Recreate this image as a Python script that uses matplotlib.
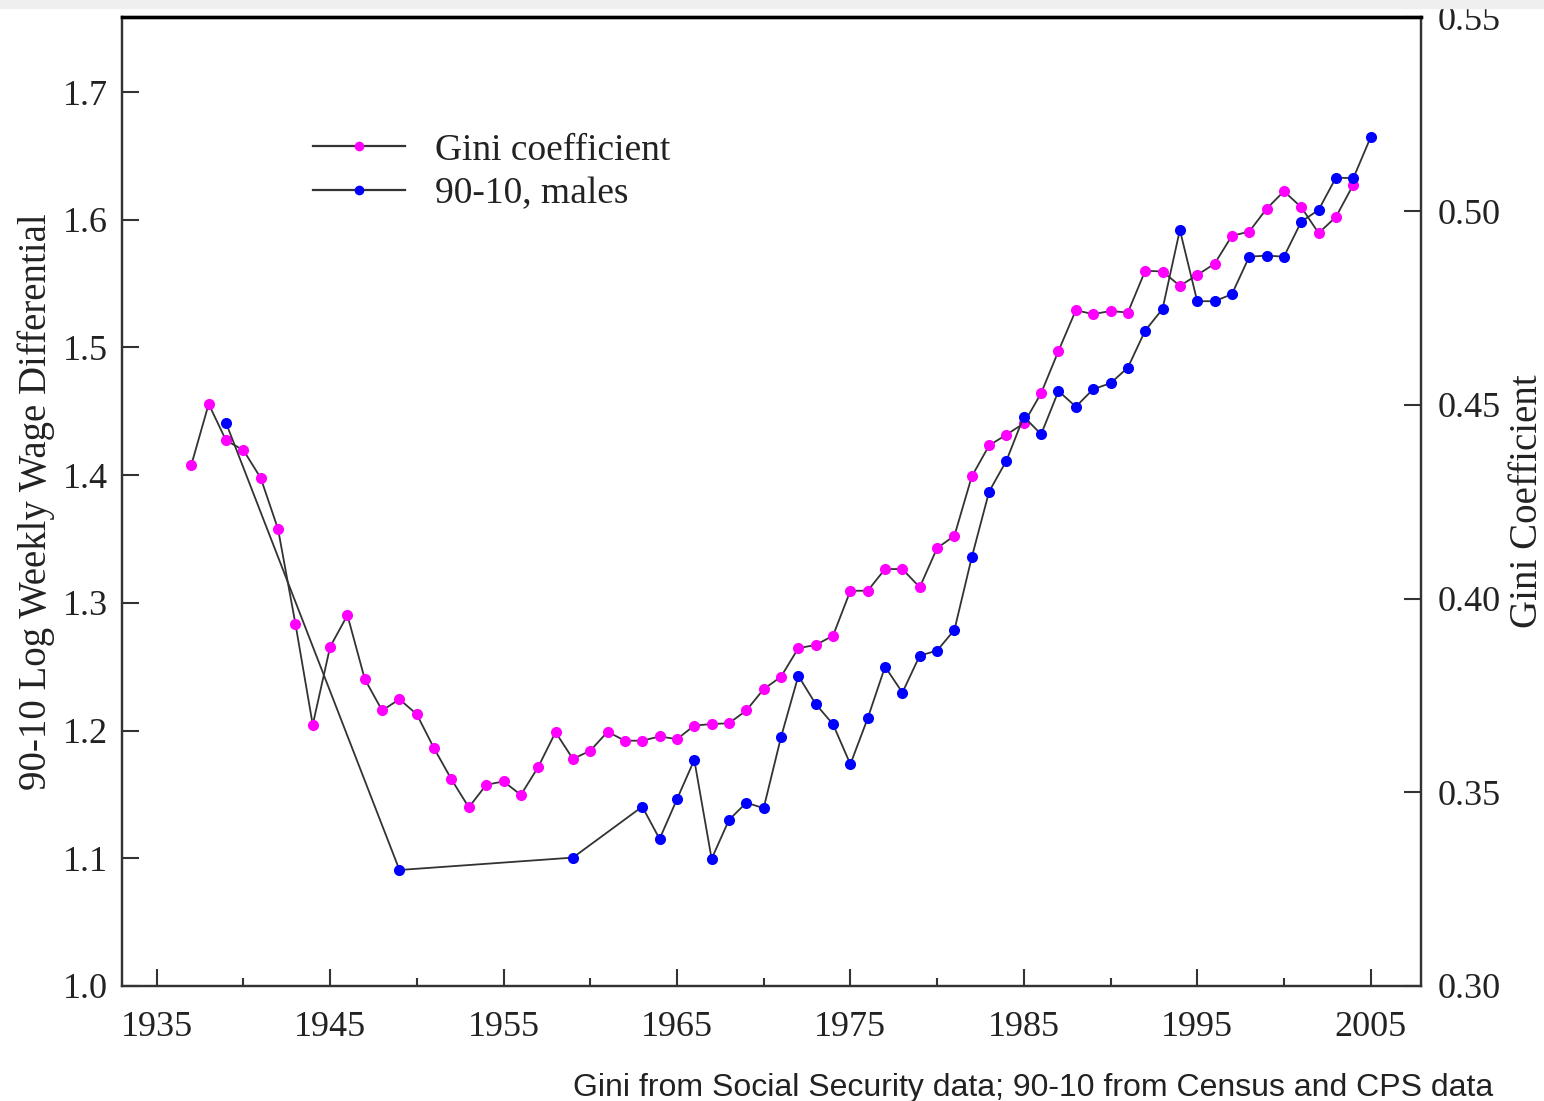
import matplotlib
matplotlib.use("Agg")
import matplotlib.pyplot as plt
from matplotlib.lines import Line2D
from matplotlib.patches import Rectangle

# Gini coefficient (right axis), Social Security data
gini_years = list(range(1937, 2005))
gini = [0.4345, 0.4502, 0.4408, 0.4383, 0.4311, 0.4179, 0.3935, 0.3674, 0.3875, 0.3957,
        0.3792, 0.3711, 0.3740, 0.3701, 0.3613, 0.3533, 0.3461, 0.3519, 0.3528, 0.3493,
        0.3565, 0.3655, 0.3586, 0.3607, 0.3656, 0.3633, 0.3633, 0.3644, 0.3637, 0.3672,
        0.3676, 0.3678, 0.3711, 0.3766, 0.3798, 0.3872, 0.3880, 0.3904, 0.4020, 0.4020,
        0.4076, 0.4076, 0.4029, 0.4130, 0.4162, 0.4315, 0.4395, 0.4423, 0.4452, 0.4530,
        0.4639, 0.4744, 0.4734, 0.4742, 0.4738, 0.4846, 0.4844, 0.4807, 0.4835, 0.4864,
        0.4936, 0.4947, 0.5006, 0.5051, 0.5010, 0.4943, 0.4985, 0.5068]

# 90-10 log weekly wage differential, males (left axis), Census and CPS data
wage_years = [1939, 1949, 1959] + list(range(1963, 2006))
wage_9010 = [1.4409, 1.0908, 1.1005,
             1.1404, 1.1151, 1.1462, 1.1770, 1.0995, 1.1300, 1.1435, 1.1392, 1.1948, 1.2428,
             1.2208, 1.2049, 1.1736, 1.2096, 1.2500, 1.2297, 1.2587, 1.2626, 1.2788, 1.3357,
             1.3871, 1.4114, 1.4458, 1.4320, 1.4659, 1.4536, 1.4673, 1.4720, 1.4842, 1.5132,
             1.5301, 1.5920, 1.5362, 1.5362, 1.5417, 1.5711, 1.5719, 1.5711, 1.5985, 1.6077,
             1.6330, 1.6325, 1.6646]

x_major = [1935, 1945, 1955, 1965, 1975, 1985, 1995, 2005]
x_minor = [1940, 1950, 1960, 1970, 1980, 1990, 2000]
left_ticks = [1.0, 1.1, 1.2, 1.3, 1.4, 1.5, 1.6, 1.7]
right_ticks = [0.30, 0.35, 0.40, 0.45, 0.50, 0.55]

serif = "Liberation Serif"
txt_col = "#222222"
line_col = "#333333"

fig = plt.figure(figsize=(15.44, 11.01), dpi=100)
fig.patches.append(Rectangle((0, 0.9927), 1, 0.0073, transform=fig.transFigure,
                             color="#efefef", zorder=0))
ax = fig.add_axes([0.0790, 0.1045, 0.8413, 0.8801])
ax2 = ax.twinx()
# wage series drawn above the Gini series
ax.set_zorder(ax2.get_zorder() + 1)
ax.patch.set_visible(False)

ax2.plot(gini_years, gini, color=line_col, lw=1.3, marker="o", ms=8,
         mfc="#ff00ff", mec="#ff00ff", mew=0)
ax.plot(wage_years, wage_9010, color=line_col, lw=1.3, marker="o", ms=8,
        mfc="#0000ff", mec="#0000ff", mew=0)

ax.set_xlim(1933.0, 2007.9)
ax.set_ylim(1.0, 1.7588)
ax2.set_ylim(0.30, 0.5501)

ax.set_xticks(x_major)
ax.set_xticks(x_minor, minor=True)
ax.set_yticks(left_ticks)
ax.set_yticklabels([f"{v:.1f}" for v in left_ticks])
ax2.set_yticks(right_ticks)
ax2.set_yticklabels([f"{v:.2f}" for v in right_ticks])

for a in (ax, ax2):
    for side in ("left", "right", "bottom"):
        a.spines[side].set_linewidth(1.6)
        a.spines[side].set_color(line_col)
    a.spines["top"].set_linewidth(2.4)
    a.spines["top"].set_color("black")

ax.tick_params(axis="x", which="major", direction="in", length=12, width=1.5,
               color=line_col, pad=18, labelsize=26, labelcolor=txt_col)
ax.tick_params(axis="x", which="minor", direction="in", length=6, width=1.5, color=line_col)
ax.tick_params(axis="y", direction="in", length=12, width=1.5, color=line_col,
               pad=10, labelsize=26, labelcolor=txt_col)
ax2.tick_params(axis="y", direction="in", length=12, width=1.5, color=line_col,
                pad=12, labelsize=26, labelcolor=txt_col)
for lab in ax.get_xticklabels() + ax.get_yticklabels() + ax2.get_yticklabels():
    lab.set_fontfamily(serif)

ax.set_ylabel("90-10 Log Weekly Wage Differential", fontsize=28, family=serif,
              color=txt_col, labelpad=6)
ax2.set_ylabel("Gini Coefficient", fontsize=28, family=serif, color=txt_col, labelpad=6)

handles = [
    Line2D([], [], color=line_col, lw=1.6, marker="o", ms=7, mfc="#ff00ff", mew=0),
    Line2D([], [], color=line_col, lw=1.6, marker="o", ms=7, mfc="#0000ff", mew=0),
]
ax.legend(handles, ["Gini coefficient", "90-10, males"], loc="upper left",
          bbox_to_anchor=(0.121, 0.915), frameon=False, numpoints=1,
          handlelength=2.45, handletextpad=0.8, labelspacing=0.25,
          prop={"family": serif, "size": 27}, labelcolor=txt_col)

fig.text(0.967, -0.002, "Gini from Social Security data; 90-10 from Census and CPS data",
         ha="right", va="bottom", fontsize=23, family="Liberation Sans", color=txt_col)

fig.savefig("out.png", dpi=100)
